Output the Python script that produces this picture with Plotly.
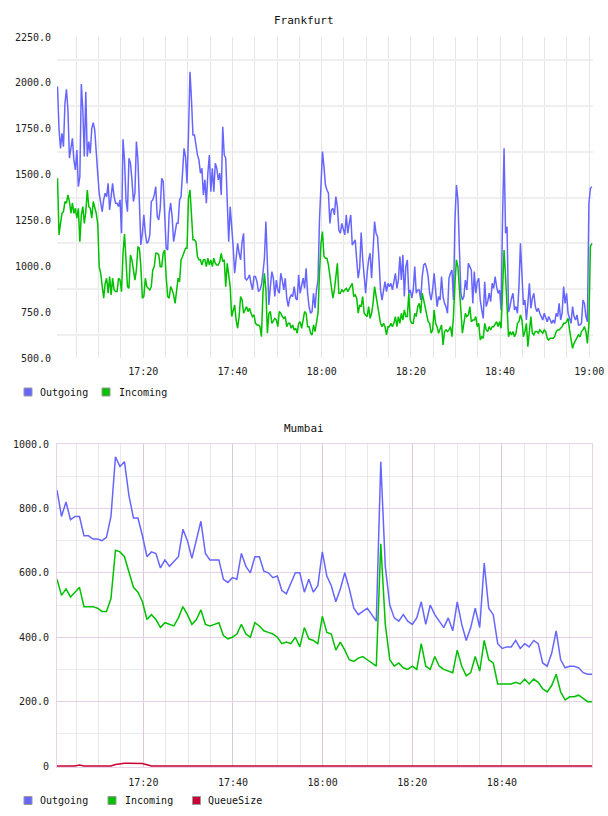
import pandas as pd
import plotly.graph_objects as go

DAY = "2024-01-01"

# ---------------- Frankfurt (samples every ~20 s) ----------------
FRA_START, FRA_END = "17:00:46", "19:00:36"
FRA_OUT = [
    1980, 1750, 1643, 1725, 1652, 1889, 1965, 1852, 1589, 1652, 1698,
    1580, 1525, 1634, 1434, 1489, 1994, 1852, 1598, 1952, 1598,
    1680, 1616, 1752, 1783, 1743, 1598, 1507, 1398, 1340, 1298, 1362,
    1398, 1380, 1452, 1307, 1400, 1452, 1380, 1344, 1344, 1325, 1362,
    1180, 1692, 1580, 1362, 1298, 1589, 1562, 1471, 1353, 1398,
    1680, 1580, 1307, 1116, 1180, 1280, 1180, 1125, 1134, 1171,
    1353, 1362, 1389, 1434, 1271, 1253, 1316, 1480, 1462, 1271,
    1098, 1089, 1289, 1344, 1271, 1134, 1180, 1234, 1234, 1362,
    1380, 1543, 1643, 1598, 1452, 1725, 2061, 1907, 1716, 1716, 1652,
    # 17:31 - 18:01
    1607, 1580, 1507, 1534, 1389, 1471, 1344, 1507, 1607, 1407, 1534, 1407, 1562,
    1534, 1471, 1507, 1389, 1761, 1607, 1589, 1325, 1134, 1325, 1225, 1107, 962,
    1035, 1125, 1071, 1035, 1134, 1180, 935, 925, 935, 953, 907, 871, 944, 944,
    916, 862, 871, 898, 962, 1044, 1244, 1053, 789, 889, 971, 935, 835, 925, 871,
    853, 962, 925, 871, 935, 826, 780, 826, 844, 835, 889, 826, 816, 953, 853,
    889, 935, 880, 989, 853, 780, 744, 753, 853, 771, 871, 925, 1253, 1489, 1625,
    1543, 1443, 1416, 1398, 1234,
    # 18:01 - 18:31
    1307, 1316, 1280, 1380, 1325,
    1198, 1180, 1234, 1207, 1171, 1280, 1180, 1234,
    1280, 1116, 1134, 1144, 1035, 935, 989, 1184, 1044,
    953, 853, 962, 1035, 1071, 935, 1089, 1244, 1180,
    1162, 1035, 871, 816, 871, 916, 862, 907,
    889, 907, 871, 925, 962, 880, 925, 1053, 925, 1062, 835, 998,
    1035, 853, 871, 826, 871, 998, 853,
    871, 871, 816, 944, 1007, 1016, 989,
    944, 853, 816, 871, 962, 871, 780, 835,
    816, 944, 835, 798, 780, 744, 935, 962,
    980, 816, 1253, 1443, 1362, 1089, 853, 816, 835, 925,
    # 18:31 - 19:00
    871, 1016, 998, 980, 798,
    971, 853, 916, 935, 816, 762, 716,
    916, 780, 807, 853, 807, 907, 880,
    944, 889, 853, 871, 762, 1271, 1643, 1180, 1216, 750, 780, 826, 853,
    762, 780, 744, 889, 1125, 907, 789, 816,
    707, 798, 907, 771, 826, 853, 780,
    753, 771, 744, 726, 707, 744, 726,
    698, 726, 707, 689, 707, 689, 744,
    726, 798, 707, 744, 889, 798, 853,
    744, 707, 689, 780, 726, 707, 735,
    680, 680, 689, 816, 798,
    726, 698, 1344, 1425, 1434,
]
FRA_IN = [
    1480, 1171, 1234, 1289, 1298, 1353, 1344, 1389, 1353, 1289,
    1344, 1289, 1316, 1262, 1316, 1134, 1280, 1325, 1234, 1298,
    1416, 1325, 1316, 1262, 1353, 1325, 1289, 1234, 998, 962,
    889, 826, 907, 935, 853, 944, 844, 935, 871,
    862, 862, 935, 925, 862, 1071, 1176, 1035, 889, 880,
    1062, 1035, 962, 925, 980, 1107, 1098, 998, 826, 835,
    935, 889, 880, 871, 889, 980, 998, 1071, 1071, 1062,
    998, 998, 1071, 1089, 944, 835, 826, 889, 871, 844,
    798, 853, 935, 916, 1035, 1053, 1080, 1098, 1098, 1371,
    1416, 1253, 1144, 1144, 1134,
    # 17:31 - 18:01
    1053, 1035, 1035, 1007, 1035, 1035, 998, 1044, 1007, 1035, 998, 1044, 1016,
    1007, 1007, 1026, 1071, 1026, 1035, 889, 1016, 962, 889, 726, 753, 789, 707,
    662, 726, 835, 816, 744, 762, 780, 753, 771, 744, 726, 735, 689, 680, 680,
    671, 616, 853, 962, 871, 635, 744, 753, 689, 707, 716, 707, 671, 753, 744,
    726, 716, 726, 671, 689, 689, 662, 680, 653, 662, 635, 689, 698, 662, 707,
    753, 744, 671, 671, 635, 626, 680, 644, 689, 744, 962, 1125, 1189, 1053,
    1044, 1044, 1007, 935,
    # 18:01 - 18:31
    889, 826, 871, 962, 1016,
    853, 853, 871, 862, 871, 880, 862, 880,
    889, 907, 835, 844, 826, 744, 789, 780, 835,
    744, 735, 726, 780, 716, 744, 798, 889, 835,
    789, 744, 689, 671, 689, 671, 626, 671,
    671, 689, 671, 689, 726, 671, 726, 689, 744, 707, 762, 726,
    726, 853, 707, 689, 689, 744, 726,
    780, 798, 744, 853, 816, 780, 726,
    698, 689, 635, 653, 762, 689, 671, 635,
    662, 680, 571, 644, 653, 644, 653, 671,
    616, 726, 907, 1035, 998, 889, 744, 635, 689, 744,
    # 18:31 - 19:00
    726, 735, 780, 698, 707,
    707, 726, 671, 689, 598, 616, 607,
    689, 653, 644, 671, 653, 671, 671,
    689, 698, 671, 698, 662, 944, 1089, 944, 780, 616, 644, 626, 644,
    616, 635, 689, 698, 735, 707, 616, 644,
    689, 562, 671, 726, 635, 626, 644,
    644, 635, 653, 644, 635, 653, 644,
    607, 598, 607, 607, 607, 616, 644,
    653, 653, 662, 671, 689, 689, 698, 716,
    653, 598, 553, 580, 598, 616,
    626, 616, 644, 653, 671,
    644, 580, 689, 1107, 1125,
]

# ---------------- Mumbai (samples every ~1 min) ----------------
MUM_START, MUM_END = "17:00:44", "19:00:08"
MUM_OUT = [
    857, 775, 820, 765, 775, 775, 715, 715, 705, 705,
    700, 710, 775, 960, 930, 945, 840, 770, 770, 715,
    650, 665, 660, 615, 640, 620, 635, 650, 735, 700,
    645, 700, 760, 660, 640, 640, 640, 580, 570, 585,
    580, 660, 620, 600, 650, 650, 605, 600, 585, 590,
    545, 535, 570, 600, 600, 540, 580, 540, 560, 665,
    590, 560, 510, 550, 600, 550, 490, 470, 480, 490,
    470, 450, 945, 620, 500, 460, 450, 470, 450, 440,
    460, 510, 440, 500, 470, 450, 430, 460, 420, 510,
    440, 390, 430, 490, 430, 630, 490, 470, 380, 365,
    370, 370, 390, 365, 380, 370, 390, 380, 320, 310,
    350, 420, 330, 305, 310, 310, 305, 290, 285, 285,
]
MUM_IN = [
    580, 530, 550, 525, 540, 555, 495, 495, 495, 490,
    480, 480, 520, 670, 665, 650, 600, 555, 540, 510,
    455, 470, 455, 430, 445, 440, 435, 460, 495, 470,
    440, 455, 485, 440, 435, 440, 445, 405, 395, 400,
    410, 440, 410, 400, 445, 435, 420, 415, 410, 400,
    380, 385, 380, 400, 370, 430, 395, 390, 380, 465,
    415, 410, 360, 385, 360, 330, 325, 335, 340, 330,
    320, 310, 690, 440, 330, 310, 320, 305, 300, 310,
    300, 380, 310, 300, 340, 310, 300, 295, 290, 360,
    310, 280, 290, 340, 295, 390, 330, 320, 255, 255,
    255, 255, 260, 255, 270, 255, 270, 260, 240, 230,
    250, 285, 230, 205, 215, 215, 220, 210, 200, 200,
]
MUM_Q = [
    0, 0, 0, 0, 0, 3, 0, 0, 0, 0,
    0, 0, 0, 5, 8, 9, 9, 9, 9, 8,
    4, 0, 0, 0, 0, 0, 0, 0, 0, 0,
] + [0] * 90

FRA_Y_TICKS = [500, 750, 1000, 1250, 1500, 1750, 2000, 2250]
MUM_Y_TICKS = [0, 200, 400, 600, 800, 1000]
FRA_X_TICKS = ["17:20", "17:40", "18:00", "18:20", "18:40", "19:00"]
MUM_X_TICKS = ["17:20", "17:40", "18:00", "18:20", "18:40"]
FRA_RANGE = ["17:00:39", "19:00:55"]
MUM_RANGE = ["17:00:44", "19:00:10"]

SERIES = ["Outgoing", "Incoming", "QueueSize"]
COLORS = {"Outgoing": "#6666ff", "Incoming": "#00c000", "QueueSize": "#cc0033"}

MONO = "DejaVu Sans Mono"
W, H = 608, 816


def t(s):
    return pd.Timestamp(f"{DAY} {s}")


def px(x):
    return x / W


def py(y):
    return 1 - y / H


fra_t = pd.date_range(t(FRA_START), t(FRA_END), periods=len(FRA_OUT))
fra_t_in = pd.date_range(t(FRA_START), t(FRA_END), periods=len(FRA_IN))
mum_t = pd.date_range(t(MUM_START), t(MUM_END), periods=len(MUM_OUT))

fig = go.Figure()
fig.add_trace(go.Scatter(x=fra_t, y=FRA_OUT, mode="lines", name="Outgoing",
                         line=dict(color=COLORS["Outgoing"], width=1.5), xaxis="x", yaxis="y"))
fig.add_trace(go.Scatter(x=fra_t_in, y=FRA_IN, mode="lines", name="Incoming",
                         line=dict(color=COLORS["Incoming"], width=1.5), xaxis="x", yaxis="y"))
fig.add_trace(go.Scatter(x=mum_t, y=MUM_OUT, mode="lines", name="Outgoing",
                         line=dict(color=COLORS["Outgoing"], width=1.5), xaxis="x2", yaxis="y2"))
fig.add_trace(go.Scatter(x=mum_t, y=MUM_IN, mode="lines", name="Incoming",
                         line=dict(color=COLORS["Incoming"], width=1.5), xaxis="x2", yaxis="y2"))
fig.add_trace(go.Scatter(x=mum_t, y=MUM_Q, mode="lines", name="QueueSize",
                         line=dict(color=COLORS["QueueSize"], width=1.5), xaxis="x2", yaxis="y2"))

tickfont = dict(family=MONO, size=10, color="#222")

fig.update_layout(
    width=W, height=H,
    margin=dict(l=0, r=0, t=0, b=0),
    paper_bgcolor="white", plot_bgcolor="white",
    showlegend=False,
    xaxis=dict(
        domain=[px(57), px(593.3)], anchor="y", type="date",
        range=[t(FRA_RANGE[0]), t(FRA_RANGE[1])],
        tickmode="array", tickvals=[t(v) for v in FRA_X_TICKS], ticktext=FRA_X_TICKS,
        showgrid=True, gridcolor="#e6e6e6", gridwidth=1,
        minor=dict(dtick=300000, tick0=t("17:00"), showgrid=True, gridcolor="#e6e6e6", gridwidth=1),
        zeroline=False, showline=False, ticks="", tickfont=tickfont, automargin=False,
        ticklabelstandoff=6,
    ),
    yaxis=dict(
        domain=[py(358), py(37)], anchor="x",
        range=[FRA_Y_TICKS[0], FRA_Y_TICKS[-1]],
        tickmode="array", tickvals=FRA_Y_TICKS, ticktext=[f"{v:.1f}" for v in FRA_Y_TICKS],
        showgrid=False,
        minor=dict(tick0=625, dtick=250, showgrid=True, gridcolor="#efefef", gridwidth=2),
        zeroline=False, showline=False, ticks="", tickfont=tickfont, automargin=False,
        ticklabelstandoff=5,
    ),
    xaxis2=dict(
        domain=[px(57), px(592.3)], anchor="y2", type="date",
        range=[t(MUM_RANGE[0]), t(MUM_RANGE[1])],
        tickmode="array", tickvals=[t(v) for v in MUM_X_TICKS], ticktext=MUM_X_TICKS,
        showgrid=True, gridcolor="#dccadc", gridwidth=1,
        minor=dict(dtick=300000, tick0=t("17:00"), showgrid=True, gridcolor="#ebe6eb", gridwidth=1),
        zeroline=False, showline=True, mirror=True, linecolor="#e8d4e8", linewidth=1,
        ticks="", tickfont=tickfont, automargin=False,
        ticklabelstandoff=6,
    ),
    yaxis2=dict(
        domain=[py(767), py(444)], anchor="x2",
        range=[-3, 1000],
        tickmode="array", tickvals=MUM_Y_TICKS,
        ticktext=["0" if v == 0 else f"{v:.1f}" for v in MUM_Y_TICKS],
        showgrid=True, gridcolor="#e4d2e4", gridwidth=1,
        minor=dict(tick0=0, dtick=100, showgrid=True, gridcolor="#eee9ee", gridwidth=1),
        zeroline=False, showline=True, mirror=True, linecolor="#e8d4e8", linewidth=1,
        ticks="", tickfont=tickfont, automargin=False,
        ticklabelstandoff=5,
    ),
)

# titles
for txt, y in (("Frankfurt", 20), ("Mumbai", 428)):
    fig.add_annotation(text=txt, x=px(304), y=py(y), xref="paper", yref="paper",
                       xanchor="center", yanchor="middle", showarrow=False,
                       font=dict(family=MONO, size=11, color="#111"))

# legends (colour box + label)
LEGENDS = [
    (392, SERIES[:2], [24, 102], [38, 117]),
    (800.5, SERIES, [24, 108, 192.5], [38, 123, 206]),
]
for yc, names, box_x, text_x in LEGENDS:
    for name, bx, tx in zip(names, box_x, text_x):
        fig.add_shape(type="rect", xref="paper", yref="paper",
                      x0=px(bx), x1=px(bx + 8), y0=py(yc + 4), y1=py(yc - 4),
                      fillcolor=COLORS[name], line=dict(color="#999999", width=1))
        fig.add_annotation(text=name, x=px(tx), y=py(yc), xref="paper", yref="paper",
                           xanchor="left", yanchor="middle", showarrow=False,
                           font=dict(family=MONO, size=10, color="#111"))

fig.write_html("out.html", config={"displayModeBar": False})
